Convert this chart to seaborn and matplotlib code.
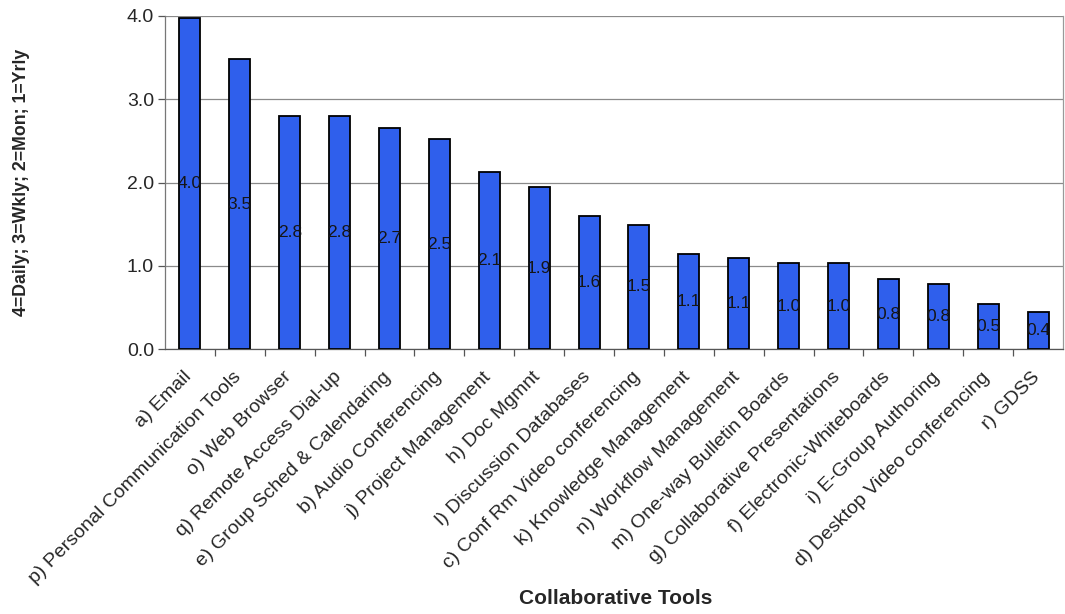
import matplotlib
matplotlib.use("Agg")
import matplotlib.pyplot as plt
import matplotlib.transforms as mtransforms
import seaborn as sns
import pandas as pd

tools = [
    "a) Email", "p) Personal Communication Tools", "o) Web Browser",
    "q) Remote Access Dial-up", "e) Group Sched & Calendaring",
    "b) Audio Conferencing", "j) Project Management", "h) Doc Mgmnt",
    "l) Discussion Databases", "c) Conf Rm Video conferencing",
    "k) Knowledge Management", "n) Workflow Management",
    "m) One-way Bulletin Boards", "g) Collaborative Presentations",
    "f) Electronic-Whiteboards", "i) E-Group Authoring",
    "d) Desktop Video conferencing", "r) GDSS",
]
usage = [3.98, 3.48, 2.80, 2.80, 2.66, 2.52, 2.13, 1.94, 1.60, 1.49,
         1.14, 1.09, 1.03, 1.03, 0.84, 0.78, 0.54, 0.44]
yticks = [0.0, 1.0, 2.0, 3.0, 4.0]

df = pd.DataFrame({"tool": tools, "usage": usage})

sns.set_theme(style="white")
plt.rcParams["font.family"] = ["Liberation Sans", "DejaVu Sans"]

fig = plt.figure(figsize=(10.65, 6.14), dpi=100)
ax = fig.add_axes([165 / 1065, 1 - 349 / 614, (1063 - 165) / 1065, (349 - 16) / 614])

sns.barplot(data=df, x="tool", y="usage", color="#2f5fec", saturation=1,
            width=0.42, edgecolor="black", linewidth=1.3, ax=ax, zorder=3)

ax.bar_label(ax.containers[0], fmt="%.1f", label_type="center",
             fontsize=12.5, color="#151515", zorder=4)

ax.set_ylim(0, 4.0)
ax.set_xlim(-0.5, len(tools) - 0.5)
ax.set_yticks(yticks)
ax.set_yticklabels([f"{v:.1f}" for v in yticks], fontsize=14)
ax.yaxis.grid(True, color="#8a8a8a", linewidth=0.9, zorder=0)
ax.set_axisbelow(True)

# category ticks sit between the bars
ax.set_xticks([i + 0.5 for i in range(len(tools) - 1)], minor=True)
ax.tick_params(axis="x", which="minor", direction="out", length=5,
               width=0.9, color="#555555", bottom=True)
ax.tick_params(axis="x", which="major", length=0, pad=14)
ax.tick_params(axis="y", direction="out", length=5, width=0.9,
               color="#555555", left=True, pad=3)
ax.set_xticks(range(len(tools)))
ax.set_xticklabels(tools, rotation=45, ha="right", rotation_mode="anchor",
                   fontsize=14)

# nudge the slanted category labels slightly to the left
shift = mtransforms.ScaledTranslation(-7 / 100, 0, fig.dpi_scale_trans)
for lbl in ax.get_xticklabels():
    lbl.set_transform(lbl.get_transform() + shift)

ax.spines["top"].set_visible(False)
ax.spines["left"].set_color("#777777")
ax.spines["bottom"].set_color("#555555")
ax.spines["right"].set_color("#999999")
for s in ("left", "bottom", "right"):
    ax.spines[s].set_linewidth(0.9)

ax.set_xlabel("")
ax.set_ylabel("")
fig.text(22 / 1065, 1 - 182 / 614, "4=Daily; 3=Wkly; 2=Mon; 1=Yrly",
         rotation=90, ha="center", va="center", fontsize=12.8,
         fontweight="bold")
fig.text(616 / 1065, 1 - 599 / 614, "Collaborative Tools", ha="center",
         va="center", fontsize=15, fontweight="bold")

fig.savefig("out.png", dpi=100)
